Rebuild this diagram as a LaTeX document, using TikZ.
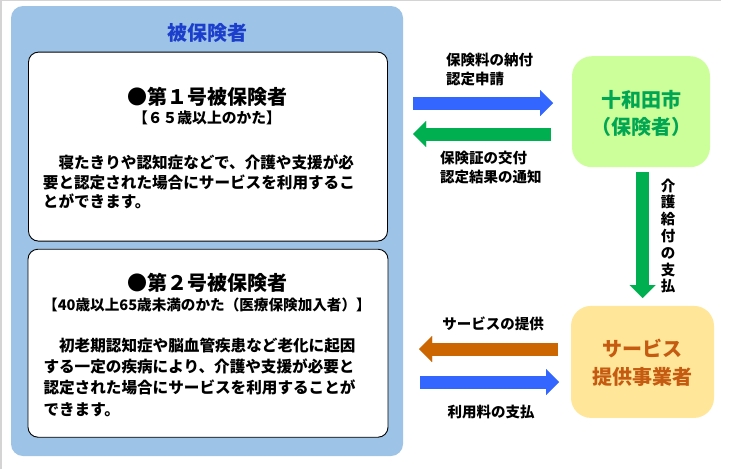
\documentclass[tikz,border=0pt]{standalone}
\usepackage{fontspec}
\setmainfont{Noto Sans CJK JP}
\usepackage{tikz}
\usetikzlibrary{positioning,calc,arrows.meta}
\definecolor{insblue}{RGB}{157,195,230}
\definecolor{titleblue}{RGB}{28,62,205}
\definecolor{arrblue}{RGB}{51,102,255}
\definecolor{arrgreen}{RGB}{0,176,80}
\definecolor{arrorange}{RGB}{204,102,0}
\definecolor{cityfill}{RGB}{204,255,153}
\definecolor{citytext}{RGB}{0,166,81}
\definecolor{svcfill}{RGB}{255,230,153}
\definecolor{svctext}{RGB}{197,90,17}
\definecolor{framegray}{RGB}{212,212,212}
\newcommand{\setfs}[2]{\fontsize{#1}{#2}\selectfont\bfseries}
\newcommand{\fatarrow}[3][]
{
	% thick block arrow between two named points
	\draw [fatarrow, #1] (#2) -- (#3);
}

\begin{document}
\begin{tikzpicture}[x=1pt, y=-1pt,
		panel/.style={rectangle, rounded corners=10pt, draw=black, line width=0.9pt, fill=white, inner sep=0},
		actor/.style={rectangle, rounded corners=20pt, inner sep=0},
		fatarrow/.style={line width=13pt, -{Triangle[width=26pt, length=13pt, line width=0.01pt]}},
		flowtext/.style={inner sep=0, align=left, font=\setfs{14.5}{19}}]
		\useasboundingbox (0,0) rectangle (733,469);
		\draw [framegray, line width=1.5pt] (1,469) -- (1,0.7) -- (721,0.7);
		
		% insured side
		\node [fill=insblue, rounded corners=12pt, inner sep=0, minimum width=392pt, minimum height=450pt] (insured) at (207,231) {};
		\node [text=titleblue, font=\setfs{20}{24}] (insuredtitle) at (207,33) {被保険者};
		
		\node [panel, minimum width=359pt, minimum height=189pt] (first) at (208,146.6) {};
		\node [font=\setfs{20}{24}] (firsttitle) at (207,96.7) {●第１号被保険者};
		\node [font=\setfs{14.8}{16}] (firstage) at (207,118.3) {【６５歳以上のかた】};
		\node [anchor=west, align=left, inner sep=0, font=\setfs{15.6}{19.2}] (firstbody) at (42.7,182)
			{　寝たきりや認知症などで、介護や支援が必\\要と認定された場合にサービスを利用するこ\\とができます。};
		
		\node [panel, minimum width=360pt, minimum height=188pt] (second) at (208,343.2) {};
		\node [font=\setfs{20}{24}] (secondtitle) at (207,282.7) {●第２号被保険者};
		\node [font=\setfs{14.6}{16}] (secondage) at (207,305) {【40歳以上65歳未満のかた（医療保険加入者）】};
		\node [anchor=west, align=left, inner sep=0, font=\setfs{15.6}{21.3}] (secondbody) at (43.3,377)
			{　初老期認知症や脳血管疾患など老化に起因\\する一定の疾病により、介護や支援が必要と\\認定された場合にサービスを利用することが\\できます。};
		
		% insurer and provider
		\node [actor, fill=cityfill, minimum width=138pt, minimum height=111pt] (city) at (641,111.7) {};
		\node [text=citytext, align=center, font=\setfs{20}{26.7}] (citytitle) at (641,113.3) {十和田市\\（保険者）};
		\node [actor, fill=svcfill, minimum width=143pt, minimum height=112pt] (provider) at (642.5,361.9) {};
		\node [text=svctext, align=center, font=\setfs{20}{28.4}] (providertitle) at (642.5,362.5) {サービス\\提供事業者};
		
		% arrow ends
		\coordinate (payS) at (413,103);
		\coordinate (payE) at (553,103);
		\coordinate (certS) at (551,134);
		\coordinate (certE) at (413,134);
		\coordinate (benS) at (642.5,172);
		\coordinate (benE) at (642.5,298);
		\coordinate (svcS) at (558,349);
		\coordinate (svcE) at (419,349);
		\coordinate (feeS) at (420,382);
		\coordinate (feeE) at (559,382);
		
		\fatarrow[arrblue]{payS}{payE}
		\fatarrow[arrgreen]{certS}{certE}
		\fatarrow[arrgreen]{benS}{benE}
		\fatarrow[arrorange]{svcS}{svcE}
		\fatarrow[arrblue]{feeS}{feeE}
		
		\node [flowtext, anchor=west] (paytext) at (446,69.5) {保険料の納付\\認定申請};
		\node [flowtext, anchor=west] (certtext) at (440,167.2) {保険証の交付\\認定結果の通知};
		\node [flowtext, align=center, font=\setfs{14.5}{16.8}] (bentext) at (668,236) {介\\護\\給\\付\\の\\支\\払};
		\node [flowtext] (svctext) at (493,324) {サービスの提供};
		\node [flowtext] (feetext) at (491,411.7) {利用料の支払};
\end{tikzpicture}
\end{document}
